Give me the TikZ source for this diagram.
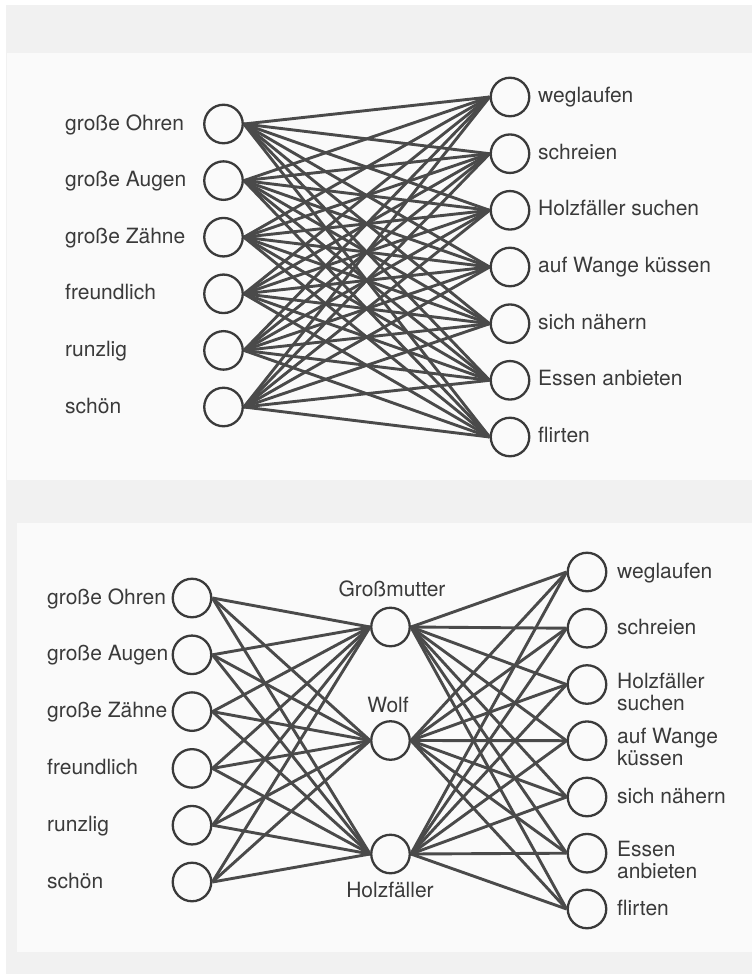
\documentclass[tikz,border=0pt]{standalone}
\usepackage{fontspec}
\setmainfont{TeX Gyre Heros}
\definecolor{outerbg}{HTML}{F1F1F1}
\definecolor{panelbg}{HTML}{FAFAFA}
\definecolor{inkc}{HTML}{3A3A3A}
\definecolor{edgec}{HTML}{4A4A4A}
\tikzset{
  unit/.style={circle, draw=inkc, line width=2.3pt, fill=panelbg, minimum size=38.5pt, inner sep=0pt},
  lbl/.style={text=inkc, inner sep=0pt, font=\fontsize{21}{22}\selectfont, anchor=base west, align=left},
  midlbl/.style={text=inkc, inner sep=0pt, font=\fontsize{21}{22}\selectfont, anchor=base},
  edge/.style={draw=edgec, line width=2.9pt},
}
\begin{document}
\begin{tikzpicture}[x=1pt, y=-1pt]
\useasboundingbox (0,0) rectangle (752,974);
% backgrounds
\fill[white] (0,0) rectangle (752,974);
\fill[outerbg] (6,5) rectangle (752,974);
\fill[panelbg] (7,53) rectangle (752,480);
\fill[panelbg] (17,523) rectangle (752,952);

% ---------- upper network: features directly to actions ----------
\foreach \y [count=\i] in {124,180.6,237.2,293.8,350.4,407} {
  \node[unit] (L\i) at (223.5,\y) {};
}
\foreach \y [count=\j] in {97,153.7,210.3,267,323.7,380.3,437} {
  \node[unit] (R\j) at (510,\y) {};
}
\foreach \txt [count=\i] in {große Ohren, große Augen, große Zähne, freundlich, runzlig, schön} {
  \path (L\i.center) ++(0,6) coordinate (lp\i);
  \node[lbl] (lt\i) at (65,0 |- lp\i) {\txt};
}
\foreach \txt [count=\j] in {weglaufen, schreien, Holzfäller suchen, auf Wange küssen, sich nähern, Essen anbieten, flirten} {
  \path (R\j.center) ++(0,5.5) coordinate (rp\j);
  \node[lbl] (rt\j) at (538,0 |- rp\j) {\txt};
}
\foreach \i in {1,...,6} {
  \foreach \j in {1,...,7} {
    \draw[edge] (L\i.east) -- (R\j.west);
  }
}

% ---------- lower network: features, persons, actions ----------
\foreach \y [count=\i] in {598,654.8,711.6,768.4,825.2,882} {
  \node[unit] (BL\i) at (192,\y) {};
}
\foreach \y [count=\k] in {627,740.5,854} {
  \node[unit] (M\k) at (390.5,\y) {};
}
\foreach \y [count=\j] in {572,628.2,684.5,740.7,797,853.2,909} {
  \node[unit] (BR\j) at (587,\y) {};
}
\foreach \txt [count=\i] in {große Ohren, große Augen, große Zähne, freundlich, runzlig, schön} {
  \path (BL\i.center) ++(0,6) coordinate (blp\i);
  \node[lbl] (blt\i) at (47,0 |- blp\i) {\txt};
}
\node[midlbl] (mt1) at (392,596) {Großmutter};
\node[midlbl] (mt2) at (388,712) {Wolf};
\node[midlbl] (mt3) at (390,897) {Holzfäller};

% two-line labels are anchored at the baseline of their last line
\node[lbl] (brt1) at (617,578) {weglaufen};
\node[lbl] (brt2) at (617,634) {schreien};
\node[lbl] (brt3) at (617,710) {Holzfäller\\suchen};
\node[lbl] (brt4) at (617,765) {auf Wange\\küssen};
\node[lbl] (brt5) at (617,803) {sich nähern};
\node[lbl] (brt6) at (617,878) {Essen\\anbieten};
\node[lbl] (brt7) at (617,915) {flirten};

\foreach \i in {1,...,6} {
  \foreach \k in {1,...,3} {
    \draw[edge] (BL\i.east) -- (M\k.west);
  }
}
\foreach \k in {1,...,3} {
  \foreach \j in {1,...,7} {
    \draw[edge] (M\k.east) -- (BR\j.west);
  }
}
\end{tikzpicture}
\end{document}
